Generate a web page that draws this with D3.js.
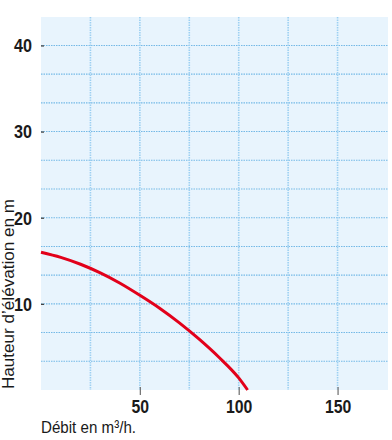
<!DOCTYPE html>
<html><head><meta charset="utf-8">
<script src="https://cdn.jsdelivr.net/npm/d3@7"></script>
<style>body{margin:0;background:#fff}svg{display:block}</style>
</head><body>
<script>
const flowQ = [0, 10, 20, 30, 40, 50, 60, 70, 80, 90, 100, 104.5];
const headH = [16.0, 15.4, 14.6, 13.6, 12.4, 11.0, 9.5, 7.8, 5.9, 3.8, 1.4, 0];
const xTicks = [50, 100, 150];
const yTicks = [10, 20, 30, 40];
const xGrid = [25, 50, 75, 100, 125, 150];
const yGrid = [10/3, 20/3, 10, 40/3, 50/3, 20, 70/3, 80/3, 30, 100/3, 110/3, 40];
const xTitle = "Débit en m³/h.";
const yTitle = "Hauteur d\u2019élévation en m";

const W = 392, H = 440;
const svg = d3.select("body").append("svg").attr("width", W).attr("height", H);
const x = d3.scaleLinear().domain([0, 175]).range([41, 387]);
const y = d3.scaleLinear().domain([0, 43.3]).range([390, 17]);
const font = "'Liberation Sans Narrow', 'Liberation Sans', sans-serif";

svg.append("rect").attr("x", x(0)).attr("y", y(43.3)).attr("width", 347).attr("height", y(0) - y(43.3)).attr("fill", "#e8f4fd");

svg.append("g").selectAll("line").data(yGrid).join("line")
  .attr("x1", x(0)).attr("x2", 388).attr("y1", d => y(d)).attr("y2", d => y(d))
  .attr("stroke", "#74b9e6").attr("stroke-width", 1.1).attr("stroke-dasharray", "1.5,1");
svg.append("g").selectAll("line").data(xGrid).join("line")
  .attr("y1", y(43.3)).attr("y2", y(0)).attr("x1", d => x(d)).attr("x2", d => x(d))
  .attr("stroke", "#9dd0f2").attr("stroke-width", 1.6).attr("stroke-dasharray", "1.5,1");

// y axis
const yAxis = svg.append("g").attr("transform", `translate(${x(0)},0)`)
  .call(d3.axisLeft(y).tickValues(yTicks).tickSize(5).tickSizeOuter(0).tickPadding(4));
yAxis.select(".domain").remove();
yAxis.selectAll(".tick line").attr("stroke", "#444").attr("stroke-width", 1.3).attr("x2", 3);
yAxis.selectAll(".tick text").attr("font-family", font).attr("font-weight", "bold")
  .attr("font-size", 18).attr("fill", "#1a1a1a").attr("dy", "0.35em")
  .attr("textLength", 18).attr("lengthAdjust", "spacingAndGlyphs");

// x axis
const xAxis = svg.append("g").attr("transform", `translate(0,${y(0)})`)
  .call(d3.axisBottom(x).tickValues(xTicks).tickSize(5).tickSizeOuter(0).tickPadding(4));
xAxis.select(".domain").remove();
xAxis.selectAll(".tick line").attr("stroke", "#777").attr("stroke-width", 1.3).attr("y1", -3);
xAxis.selectAll(".tick text").attr("font-family", font).attr("font-weight", "bold")
  .attr("font-size", 18).attr("fill", "#1a1a1a").attr("dy", "0.75em")
  .attr("textLength", d => String(d).length * 8.8).attr("lengthAdjust", "spacingAndGlyphs");

// curve
const pts = flowQ.map((q, i) => [q, headH[i]]);
svg.append("path").datum(pts)
  .attr("d", d3.line().x(d => x(d[0])).y(d => y(d[1])).curve(d3.curveMonotoneX))
  .attr("fill", "none").attr("stroke", "#e2001a").attr("stroke-width", 3);

svg.append("text").attr("x", 41).attr("y", 433).text(xTitle)
  .attr("font-family", font).attr("font-size", 17).attr("fill", "#1a1a1a")
  .attr("textLength", 95).attr("lengthAdjust", "spacingAndGlyphs");
svg.append("text").attr("transform", "translate(14,389) rotate(-90)").text(yTitle)
  .attr("font-family", font).attr("font-size", 17).attr("fill", "#1a1a1a")
  .attr("textLength", 190).attr("lengthAdjust", "spacingAndGlyphs");
</script>
</body></html>
